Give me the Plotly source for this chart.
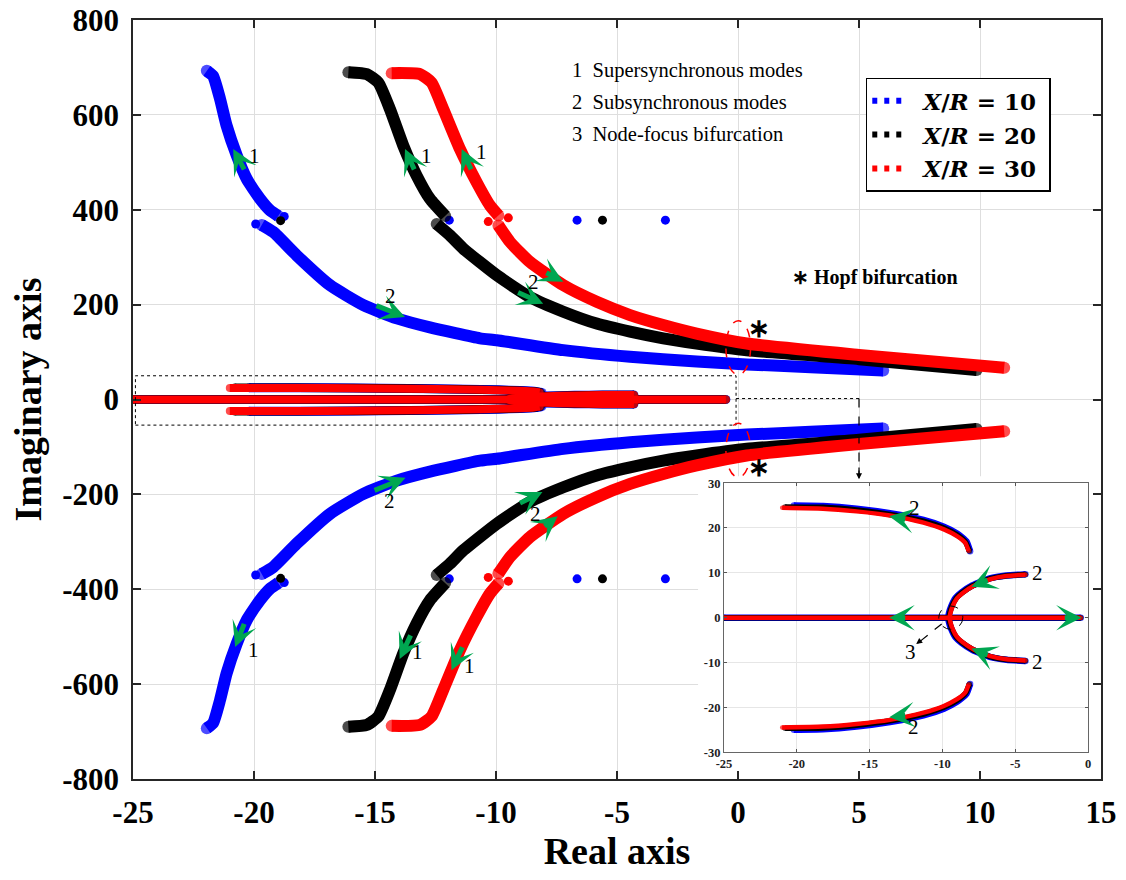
import plotly.graph_objects as go

# ---------------- data (upper half-plane; lower half = conjugate) ----------------
series_names = ["<i>X</i>/<i>R</i> = 10", "<i>X</i>/<i>R</i> = 20", "<i>X</i>/<i>R</i> = 30"]
series_colors = ["#0000ff", "#000000", "#ff0000"]

# X/R = 10 (blue)
blue_sup_x = [-21.95, -21.69, -21.4, -21.13, -20.71, -20.3, -19.75, -19.34, -19.0]
blue_sup_y = [693, 682, 633, 577, 514, 465, 423, 399, 387]
blue_sub_x = [-19.68, -19.2, -18.24, -16.86, -15.48, -14.1, -12.73, -10.66, -9.97, -7.22, -4.46, -1.71, 0.36, 3.0, 6.0]
blue_sub_y = [368, 353, 304, 241, 199, 171, 152, 129, 125, 104, 90, 80, 74, 68, 61]
blue_pts_x = [-19.93, -18.75, -11.93, -6.65, -3.0]
blue_pts_y = [370, 386, 378, 378, 378]
blue_arc_x = [-20.2, -18.2, -15.9, -13.6, -11.3, -9.9, -9.0, -8.35, -8.1]
blue_arc_y = [25.0, 24.9, 24.3, 23.3, 21.8, 20.3, 18.8, 17.0, 14.8]
blue_nf_x = [-4.3, -5.6, -6.75, -7.95, -8.7, -9.1, -9.4, -9.55, -9.6]
blue_nf_y = [9.65, 9.4, 8.75, 7.2, 5.6, 4.4, 2.5, 1.0, 0.0]
blue_real_x = [-25.0, -0.5]

# X/R = 20 (black)
black_sup_x = [-16.1, -15.34, -14.86, -14.38, -13.83, -13.28, -12.73, -12.1]
black_sup_y = [690, 686, 668, 612, 535, 472, 423, 387]
black_sub_x = [-12.45, -11.9, -11.35, -9.97, -8.6, -7.22, -5.84, -4.46, -3.09, -1.71, 0.36, 5.0, 9.86]
black_sub_y = [370, 346, 318, 262, 216, 185, 160, 143, 129, 118, 104, 85, 62]
black_pts_x = [-18.9, -5.6]
black_pts_y = [377, 378]
black_arc_x = [-20.8, -18.2, -15.9, -13.6, -11.3, -9.9, -9.0, -8.4, -8.15]
black_arc_y = [24.7, 24.6, 24.0, 23.0, 21.5, 20.0, 18.5, 16.8, 14.85]
black_nf_x = [-4.3, -5.6, -6.72, -7.92, -8.65, -9.05, -9.35, -9.5, -9.55]
black_nf_y = [9.6, 9.35, 8.68, 7.1, 5.55, 4.35, 2.5, 1.0, 0.0]
black_real_x = [-25.0, -0.5]

# X/R = 30 (red)
red_sup_x = [-14.31, -13.14, -12.66, -12.18, -11.49, -10.8, -10.25, -9.9]
red_sup_y = [688, 686, 668, 612, 528, 458, 409, 388]
red_sub_x = [-9.9, -9.42, -8.6, -7.22, -5.84, -4.46, -3.09, -1.71, 0.36, 5.0, 11.0]
red_sub_y = [367, 332, 290, 241, 206, 178, 157, 139, 118, 94, 67]
red_pts_x = [-10.32, -9.49]
red_pts_y = [375, 383]
red_arc_x = [-21.0, -18.2, -15.9, -13.6, -11.3, -9.9, -9.0, -8.43, -8.2]
red_arc_y = [24.5, 24.3, 23.7, 22.8, 21.2, 19.7, 18.2, 16.7, 14.9]
red_nf_x = [-4.3, -5.6, -6.7, -7.9, -8.6, -9.0, -9.3, -9.45, -9.5]
red_nf_y = [9.55, 9.3, 8.6, 7.0, 5.5, 4.3, 2.5, 1.0, 0.0]
red_real_x = [-25.0, -0.5]

# axes ticks
main_xticks = [-25, -20, -15, -10, -5, 0, 5, 10, 15]
main_xlabels = ["-25", "-20", "-15", "-10", "-5", "0", "5", "10", "15"]
main_yticks = [-800, -600, -400, -200, 0, 200, 400, 600, 800]
main_ylabels = ["-800", "-600", "-400", "-200", "0", "200", "400", "600", "800"]
inset_xticks = [-25, -20, -15, -10, -5, 0]
inset_xlabels = ["-25", "-20", "-15", "-10", "-5", "0"]
inset_yticks = [-30, -20, -10, 0, 10, 20, 30]
inset_ylabels = ["-30", "-20", "-10", "0", "10", "20", "30"]

mode_notes = ["1  Supersynchronous modes", "2  Subsynchronous modes", "3  Node-focus bifurcation"]

# ---------------- figure ----------------
GREEN = "#00a651"
SERIF = "Liberation Serif"
fig = go.Figure()


def conj(v):
    return [-a for a in v]


def curve(x, y, color, width, xa="x", ya="y", caps=True):
    n = len(x)
    sizes = [width if (caps and (i == 0 or i == n - 1)) else 0 for i in range(n)]
    fig.add_trace(go.Scatter(
        x=x, y=y, mode="lines+markers" if caps else "lines",
        line=dict(color=color, width=width, shape="spline", smoothing=0.5),
        marker=dict(size=sizes, color=color, line=dict(width=0)),
        showlegend=False, hoverinfo="skip", xaxis=xa, yaxis=ya))


series = [
    (blue_sup_x, blue_sup_y, blue_sub_x, blue_sub_y, blue_pts_x, blue_pts_y,
     blue_arc_x, blue_arc_y, blue_nf_x, blue_nf_y, blue_real_x, 6.5, 9),
    (black_sup_x, black_sup_y, black_sub_x, black_sub_y, black_pts_x, black_pts_y,
     black_arc_x, black_arc_y, black_nf_x, black_nf_y, black_real_x, 5.5, 8.5),
    (red_sup_x, red_sup_y, red_sub_x, red_sub_y, red_pts_x, red_pts_y,
     red_arc_x, red_arc_y, red_nf_x, red_nf_y, red_real_x, 4.5, 8),
]

for (sx, sy, bx, by, px, py, ax_, ay_, nx, ny, rx, iw, mw), col in zip(series, series_colors):
    W = 12
    curve(sx, sy, col, W)
    curve(sx, conj(sy), col, W)
    curve(bx, by, col, W)
    curve(bx, conj(by), col, W)
    fig.add_trace(go.Scatter(x=px + px, y=py + conj(py), mode="markers",
                             marker=dict(size=9, color=col), showlegend=False,
                             hoverinfo="skip"))
    nfx = nx + nx[-2::-1]
    nfy = ny + conj(ny[-2::-1])
    for xa, ya, w in (("x", "y", mw), ("x3", "y3", iw)):
        curve(rx, [0, 0], col, w, xa, ya)
        curve(ax_, ay_, col, w, xa, ya)
        curve(ax_, conj(ay_), col, w, xa, ya)
        curve(nfx, nfy, col, w, xa, ya)

# legend entries
for i, (nm, col) in enumerate(zip(series_names, series_colors)):
    fig.add_trace(go.Scatter(x=[None], y=[None], mode="lines",
                             name="&nbsp;&nbsp;" + nm + "&nbsp;",
                             line=dict(color=col, width=6, dash="5px,7px"),
                             legendgroup=str(i), showlegend=True))

# ---------------- shapes ----------------
shapes = [
    dict(type="rect", xref="x", yref="y", x0=-1.65, x1=15, y0=-800, y1=-162,
         fillcolor="white", line=dict(width=0), layer="between"),
    dict(type="rect", xref="x", yref="y", x0=-24.9, x1=-0.08, y0=-54, y1=50,
         line=dict(color="black", width=1, dash="dot"), layer="above"),
    dict(type="line", xref="x", yref="y", x0=-0.08, x1=5.0, y0=2, y1=2,
         line=dict(color="black", width=1, dash="dot"), layer="above"),
    dict(type="line", xref="x", yref="y", x0=5.0, x1=5.0, y0=2, y1=-158,
         line=dict(color="black", width=1.2, dash="dash"), layer="above"),
    dict(type="circle", xref="x", yref="y", x0=-0.5, x1=0.52, y0=52, y1=166,
         line=dict(color="red", width=1.5, dash="dash"), layer="above"),
    dict(type="circle", xref="x", yref="y", x0=-0.5, x1=0.52, y0=-164, y1=-50,
         line=dict(color="red", width=1.5, dash="dash"), layer="above"),
    dict(type="circle", xref="x3", yref="y3", x0=-10.25, x1=-8.6, y0=-2.6, y1=2.6,
         line=dict(color="black", width=1, dash="dash"), layer="above"),
    dict(type="line", xref="x3", yref="y3", x0=-10.05, x1=-11.5, y0=-1.4, y1=-5.2,
         line=dict(color="black", width=1.2, dash="dash"), layer="above"),
]
fig.update_layout(shapes=shapes)

fig.add_annotation(x=5.0, y=-168, ax=5.0, ay=-140, xref="x", yref="y", axref="x", ayref="y",
                   text="", showarrow=True, arrowhead=2, arrowsize=1, arrowwidth=1.2,
                   arrowcolor="black")
fig.add_annotation(x=-11.8, y=-5.9, ax=-11.35, ay=-4.8, xref="x3", yref="y3", axref="x3",
                   ayref="y3", text="", showarrow=True, arrowhead=2, arrowsize=1,
                   arrowwidth=1.2, arrowcolor="black")

green_arrows = [
    ((-20.37, 482), (-20.86, 528), "x", "y"),
    ((-13.35, 482), (-13.76, 528), "x", "y"),
    ((-11.0, 482), (-11.42, 528), "x", "y"),
    ((-15.0, 199), (-13.76, 174), "x", "y"),
    ((-9.15, 227), (-8.05, 202), "x", "y"),
    ((-7.98, 269), (-7.22, 248), "x", "y"),
    ((-15.08, -193), (-13.74, -165), "x", "y"),
    ((-9.07, -220), (-8.08, -195), "x", "y"),
    ((-8.05, -270), (-7.45, -246), "x", "y"),
    ((-20.38, -470), (-20.78, -522), "x", "y"),
    ((-13.5, -494), (-13.98, -547), "x", "y"),
    ((-11.36, -519), (-11.84, -571), "x", "y"),
    ((-12.45, 21.9), (-13.65, 22.6), "x3", "y3"),
    ((-12.45, -21.8), (-13.65, -22.2), "x3", "y3"),
    ((-12.45, 0), (-13.65, 0), "x3", "y3"),
    ((-1.7, 0), (-0.44, 0), "x3", "y3"),
    ((-6.8, 8.5), (-8.0, 6.9), "x3", "y3"),
    ((-6.8, -8.5), (-8.0, -6.9), "x3", "y3"),
]
for (tx, ty), (hx, hy), xr, yr in green_arrows:
    fig.add_annotation(x=hx, y=hy, ax=tx, ay=ty, xref=xr, yref=yr, axref=xr, ayref=yr,
                       text="", showarrow=True, arrowhead=3, arrowsize=0.85,
                       arrowwidth=5, arrowcolor=GREEN, standoff=0)

num_labels = [
    ("1", -20.0, 514, "x", "y"), ("1", -12.87, 514, "x", "y"), ("1", -10.6, 521, "x", "y"),
    ("2", -14.34, 218, "x", "y"), ("2", -8.43, 248, "x", "y"),
    ("2", -14.4, -214, "x", "y"), ("2", -8.36, -242, "x", "y"),
    ("1", -20.03, -529, "x", "y"), ("1", -13.23, -533, "x", "y"), ("1", -11.09, -561, "x", "y"),
    ("2", -11.9, 24.5, "x3", "y3"), ("2", -12.0, -24.4, "x3", "y3"),
    ("2", -3.5, 10.0, "x3", "y3"), ("2", -3.5, -9.9, "x3", "y3"),
    ("3", -12.2, -7.6, "x3", "y3"),
]
for t, x, y, xr, yr in num_labels:
    fig.add_annotation(x=x, y=y, xref=xr, yref=yr, text=t, showarrow=False,
                       font=dict(family=SERIF, size=21, color="black"))

for i, t in enumerate(mode_notes):
    fig.add_annotation(x=-6.95, y=693 - i * 67, xref="x", yref="y", xanchor="left",
                       text=t.replace("  ", "&nbsp;&nbsp;"), showarrow=False,
                       font=dict(family=SERIF, size=20.5, color="black"))

fig.add_annotation(x=2.15, y=258, xref="x", yref="y", xanchor="left", showarrow=False,
                   text="<b>\u2217 Hopf bifurcation</b>",
                   font=dict(family=SERIF, size=20, color="black"))
for yy in (150, -144):
    fig.add_annotation(x=0.85, y=yy, xref="x", yref="y", showarrow=False, text="<b>\u2217</b>",
                       font=dict(family=SERIF, size=26, color="black"))

# ---------------- axes ----------------
GRID = "rgb(222,222,222)"
AX = "#262626"
tick_font = dict(family=SERIF, size=31, color="black", weight="bold")
title_font = dict(family=SERIF, size=38, color="black", weight="bold")
inset_font = dict(family=SERIF, size=12.5, color="#222", weight="bold")

fig.update_layout(
    width=1126, height=880,
    margin=dict(l=133, r=25, t=20, b=101, autoexpand=False),
    paper_bgcolor="white", plot_bgcolor="white",
    xaxis=dict(range=[-25, 15], tickvals=main_xticks, ticktext=main_xlabels,
               ticks="inside", ticklen=8, tickwidth=1.5, tickcolor=AX,
               showline=True, linecolor=AX, linewidth=1.5, mirror="ticks",
               showgrid=True, gridcolor=GRID, gridwidth=1, zeroline=False,
               tickfont=tick_font, ticklabelstandoff=5, automargin=False,
               ticklabeloverflow="allow",
               title=dict(text="Real axis", font=title_font, standoff=6)),
    yaxis=dict(range=[-800, 800], tickvals=main_yticks, ticktext=main_ylabels,
               ticks="inside", ticklen=8, tickwidth=1.5, tickcolor=AX,
               showline=True, linecolor=AX, linewidth=1.5, mirror="ticks",
               showgrid=True, gridcolor=GRID, gridwidth=1, zeroline=False,
               tickfont=tick_font, ticklabelstandoff=6, automargin=False,
               ticklabeloverflow="allow",
               title=dict(text="Imaginary axis", font=title_font, standoff=9)),
    xaxis3=dict(domain=[0.6105, 0.9866], anchor="y3", range=[-25, 0],
                tickvals=inset_xticks, ticktext=inset_xlabels,
                ticks="inside", ticklen=3, tickcolor="#555",
                showline=True, linecolor="#666", linewidth=1, mirror="ticks",
                showgrid=True, gridcolor="rgb(230,230,230)", zeroline=False,
                tickfont=inset_font, automargin=False),
    yaxis3=dict(domain=[0.0354, 0.3898], anchor="x3", range=[-30, 30],
                tickvals=inset_yticks, ticktext=inset_ylabels,
                ticks="inside", ticklen=3, tickcolor="#555",
                showline=True, linecolor="#666", linewidth=1, mirror="ticks",
                showgrid=True, gridcolor="rgb(230,230,230)", zeroline=False,
                tickfont=inset_font, automargin=False),
    legend=dict(x=0.757, y=0.924, xanchor="left", yanchor="top",
                bgcolor="white", bordercolor="black", borderwidth=1.5,
                font=dict(family="DejaVu Serif", size=23, color="black", weight="bold"),
                tracegroupgap=1),
    showlegend=True,
)

# remove the default page margin so the figure fills the window exactly
fig.write_html("out.html", config={"displayModeBar": False},
               post_script="document.body.style.margin='0';")
